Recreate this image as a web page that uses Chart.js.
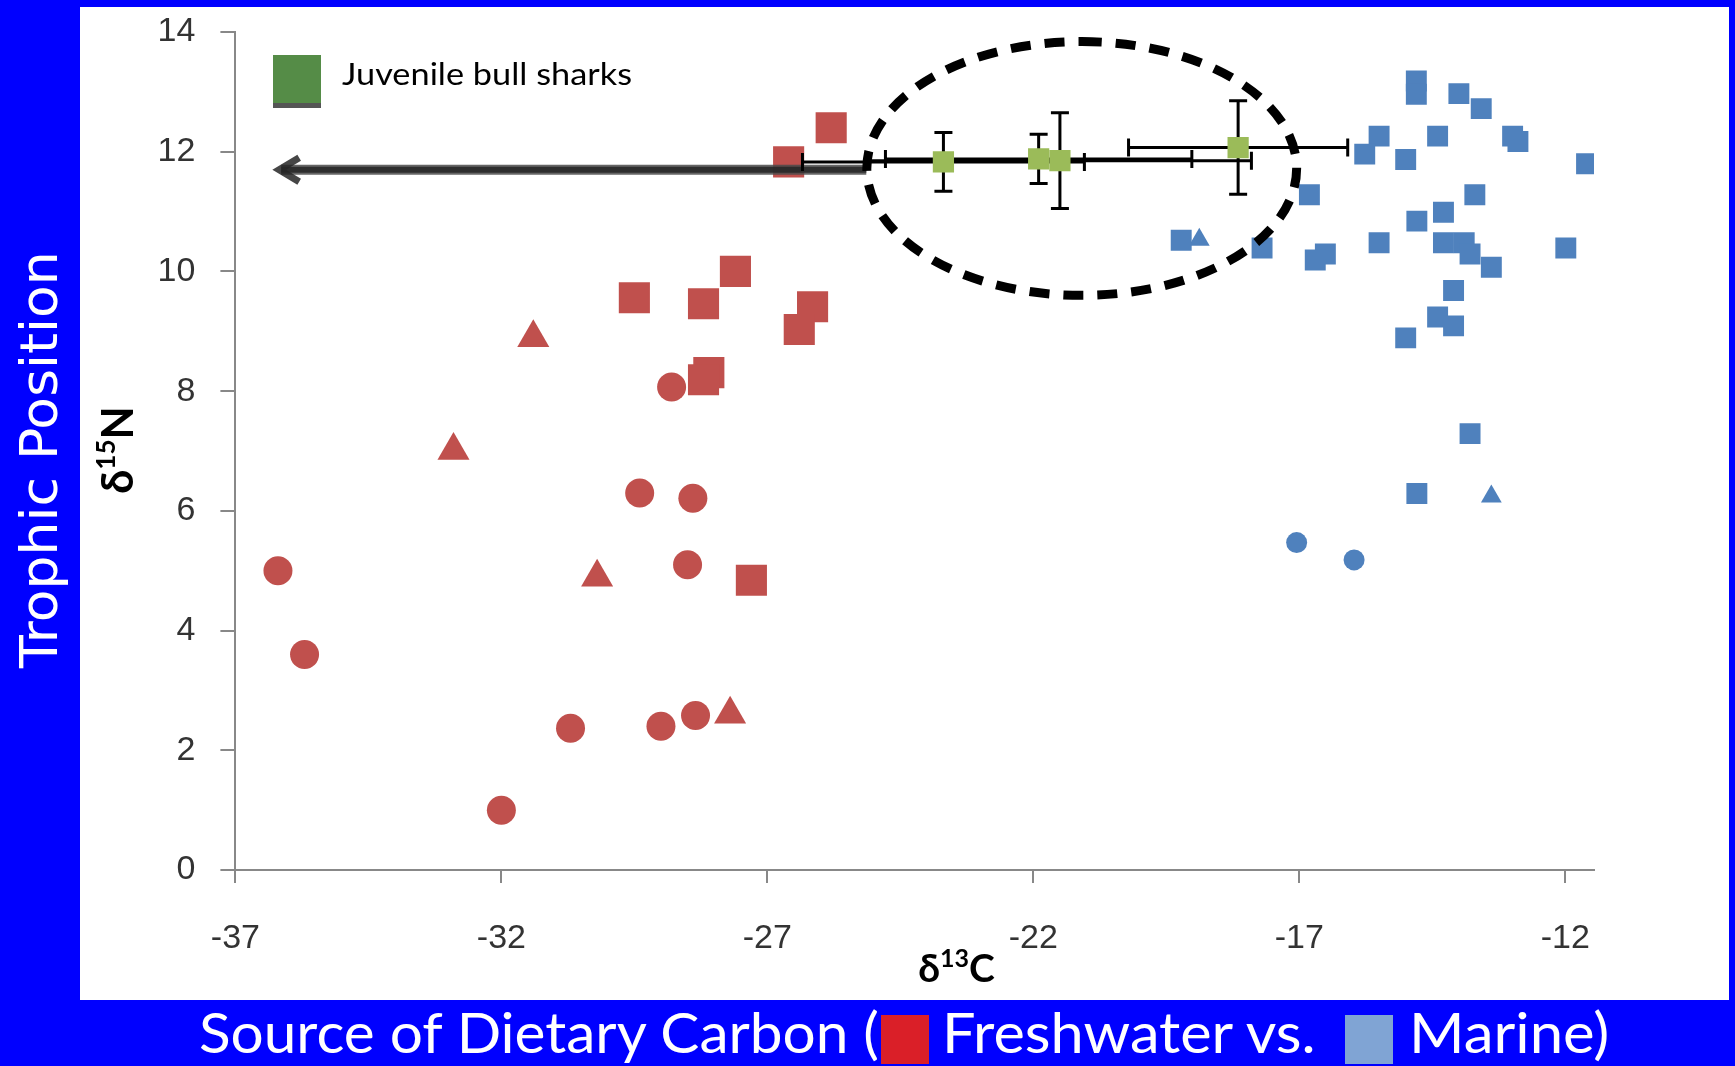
<!DOCTYPE html>
<html>
<head>
<meta charset="utf-8">
<script src="https://cdn.jsdelivr.net/npm/chart.js@4/dist/chart.umd.min.js"></script>
<style>
  html, body { margin: 0; padding: 0; }
  body { width: 1735px; height: 1066px; background: #0000ff; position: relative; overflow: hidden; }
  #plot { position: absolute; left: 80px; top: 7px; width: 1649px; height: 993px; background: #fff; }
  #c { position: absolute; left: 0; top: 0; }
  .t { position: absolute; white-space: nowrap; line-height: 1; left: 0; top: 0; }
  .cap { font-family: Lato, "Open Sans", sans-serif; font-size: 56px; color: #fff; }
  #legText { font-family: Lato, "Open Sans", sans-serif; font-size: 31px; color: #000; }
  #yHead { font-family: "DejaVu Sans", sans-serif; font-size: 52px; color: #fff; }
  #legBox { position: absolute; left: 273px; top: 55px; width: 48px; height: 48px; background: #558c47; border-bottom: 5px solid #555; }
  .sw { position: absolute; top: 1015px; height: 49px; }
  #swRed { left: 881px; width: 48px; background: #da1f28; }
  #swBlue { left: 1345px; width: 48px; background: #80a4d4; }
</style>
</head>
<body>
<div id="plot"><canvas id="c" width="1649" height="993"></canvas></div>
<div id="legBox"></div>
<span class="t" id="legText">Juvenile bull sharks</span>
<span class="t" id="yHead">Trophic Position</span>
<span class="t cap" id="cap1">Source of Dietary Carbon (</span>
<div class="sw" id="swRed"></div>
<span class="t cap" id="cap2">Freshwater vs.</span>
<div class="sw" id="swBlue"></div>
<span class="t cap" id="cap3">Marine)</span>

<script>
// values (d13C on x, d15N on y)
const xAxisTicks = [-37, -32, -27, -22, -17, -12];
const yAxisTicks = [0, 2, 4, 6, 8, 10, 12, 14];

// freshwater prey (red)
const freshCircleX = [-36.2, -35.7, -32.0, -30.7, -29.4, -28.8, -28.4, -28.5, -29.0, -28.35];
const freshCircleY = [5.0, 3.6, 1.0, 2.37, 6.3, 8.07, 6.21, 5.1, 2.4, 2.58];
const freshTriX = [-31.4, -32.9, -30.2, -27.7];
const freshTriY = [8.89, 7.01, 4.89, 2.6];
const freshSqX = [-25.8, -26.6, -29.5, -28.2, -27.6, -26.15, -26.4, -28.1, -28.2, -27.3];
const freshSqY = [12.4, 11.83, 9.56, 9.46, 10.0, 9.41, 9.03, 8.31, 8.19, 4.84];

// marine prey (blue)
const marineSqX = [-14.8, -14.8, -14.0, -13.58, -15.5, -15.77, -14.4, -15.0, -12.99, -12.89, -11.6,
  -16.81, -13.7, -14.29, -14.79, -19.22, -17.7, -16.51, -16.7, -15.5, -14.29, -13.9, -13.79,
  -13.39, -11.99, -14.1, -14.4, -14.1, -15.0, -13.79, -14.79];
const marineSqY = [13.18, 12.96, 12.97, 12.72, 12.26, 11.96, 12.26, 11.87, 12.26, 12.17, 11.8,
  11.28, 11.28, 10.99, 10.84, 10.52, 10.39, 10.29, 10.19, 10.48, 10.48, 10.48, 10.29,
  10.07, 10.39, 9.68, 9.24, 9.09, 8.89, 7.29, 6.29];
const marineTriX = [-18.88, -13.39];
const marineTriY = [10.53, 6.24];
const marineCircleX = [-17.05, -15.97];
const marineCircleY = [5.47, 5.18];

// juvenile bull sharks, mean +/- error
const sharkX = [-23.69, -21.9, -21.5, -18.15];
const sharkY = [11.83, 11.88, 11.85, 12.07];
const sharkXErr = [2.65, 2.88, 3.6, 2.06];
const sharkYErr = [0.49, 0.41, 0.8, 0.78];

// annotations (data units)
const ringCentre = [-21.09, 11.72];
const ringRadius = [4.04, 2.12];
const arrowStart = [-25.14, 11.70];
const arrowEnd = [-36.29, 11.70];

function pts(xs, ys) {
  return xs.map((x, i) => ({ x: x, y: ys[i] }));
}

const RED = '#c0504d';
const BLUE = '#4f81bd';
const GREEN = '#9bbb59';

function set(label, xs, ys, style, r, color) {
  return {
    label: label,
    data: pts(xs, ys),
    pointStyle: style,
    pointRadius: r,
    pointHoverRadius: r,
    pointBackgroundColor: color,
    pointBorderWidth: 0,
    pointHoverBorderWidth: 0
  };
}

function richText(ctx, parts, cx, cy, rot) {
  // parts drawn along a baseline, centred on (cx, cy)
  let w = 0;
  parts.forEach(p => { ctx.font = p.f; p.w = ctx.measureText(p.t).width; w += p.w; });
  ctx.save();
  ctx.translate(cx, cy);
  ctx.rotate(rot);
  ctx.fillStyle = '#000';
  ctx.textBaseline = 'alphabetic';
  let x = -w / 2;
  parts.forEach(p => { ctx.font = p.f; ctx.fillText(p.t, x, p.dy); x += p.w; });
  ctx.restore();
}

const overlay = {
  id: 'overlay',
  beforeDatasetDraw(chart, args) {
    if (args.index !== 0) return;
    const ctx = chart.ctx, xs = chart.scales.x, ys = chart.scales.y;
    ctx.save();

    // arrow
    const ax0 = xs.getPixelForValue(arrowStart[0]);
    const ax1 = xs.getPixelForValue(arrowEnd[0]);
    const ay = ys.getPixelForValue(arrowStart[1]);
    ctx.globalAlpha = 0.85;
    ctx.strokeStyle = '#4a4a4a';
    ctx.lineWidth = 10;
    ctx.beginPath(); ctx.moveTo(ax0, ay); ctx.lineTo(ax1 + 8, ay); ctx.stroke();
    ctx.strokeStyle = '#262626';
    ctx.lineWidth = 6;
    ctx.beginPath(); ctx.moveTo(ax0, ay); ctx.lineTo(ax1 + 8, ay); ctx.stroke();
    ctx.lineWidth = 7;
    ctx.lineJoin = 'miter';
    ctx.beginPath();
    ctx.moveTo(ax1 + 26, ay - 12); ctx.lineTo(ax1 + 6, ay); ctx.lineTo(ax1 + 26, ay + 12);
    ctx.stroke();
    ctx.globalAlpha = 1;

    // dashed ring
    const cx = xs.getPixelForValue(ringCentre[0]);
    const cy = ys.getPixelForValue(ringCentre[1]);
    const rx = xs.getPixelForValue(ringCentre[0] + ringRadius[0]) - cx;
    const ry = cy - ys.getPixelForValue(ringCentre[1] + ringRadius[1]);
    ctx.strokeStyle = '#000';
    ctx.lineWidth = 9;
    ctx.setLineDash([20, 14]);
    ctx.beginPath();
    ctx.ellipse(cx, cy, rx, ry, 0, -Math.PI / 2, Math.PI * 1.5);
    ctx.stroke();
    ctx.setLineDash([]);

    // error bars
    ctx.lineWidth = 3;
    sharkX.forEach((v, i) => {
      const px = xs.getPixelForValue(v), py = ys.getPixelForValue(sharkY[i]);
      const l = xs.getPixelForValue(v - sharkXErr[i]), r = xs.getPixelForValue(v + sharkXErr[i]);
      const t = ys.getPixelForValue(sharkY[i] + sharkYErr[i]), b = ys.getPixelForValue(sharkY[i] - sharkYErr[i]);
      ctx.beginPath();
      ctx.moveTo(l, py); ctx.lineTo(r, py);
      ctx.moveTo(l, py - 9); ctx.lineTo(l, py + 9);
      ctx.moveTo(r, py - 9); ctx.lineTo(r, py + 9);
      ctx.moveTo(px, t); ctx.lineTo(px, b);
      ctx.moveTo(px - 9, t); ctx.lineTo(px + 9, t);
      ctx.moveTo(px - 9, b); ctx.lineTo(px + 9, b);
      ctx.stroke();
    });
    ctx.restore();
  },
  afterDraw(chart) {
    const ctx = chart.ctx;
    richText(ctx, [
      { t: 'δ', f: 'bold 39px Lato', dy: 0 },
      { t: '13', f: 'bold 25px Lato', dy: -15 },
      { t: 'C', f: 'bold 39px Lato', dy: 0 }
    ], 876.5, 975, 0);
    richText(ctx, [
      { t: 'δ', f: 'bold 43px Lato', dy: 0 },
      { t: '15', f: 'bold 26px Lato', dy: -18 },
      { t: 'N', f: 'bold 43px Lato', dy: 0 }
    ], 53, 443, -Math.PI / 2);
  }
};

Chart.defaults.font.family = '"Liberation Sans", Arial, sans-serif';

function noPad(s) {
  s.paddingTop = 0; s.paddingBottom = 0; s.paddingLeft = 0; s.paddingRight = 0;
}

function makeChart() {
  new Chart(document.getElementById('c'), {
    type: 'scatter',
    data: {
      datasets: [
        set('Juvenile bull sharks', sharkX, sharkY, 'rect', 15, GREEN),
        set('Freshwater squares', freshSqX, freshSqY, 'rect', 22, RED),
        set('Freshwater circles', freshCircleX, freshCircleY, 'circle', 14.5, RED),
        set('Freshwater triangles', freshTriX, freshTriY, 'triangle', 18.5, RED),
        set('Marine squares', marineSqX, marineSqY, 'rect', 14.8, BLUE),
        set('Marine circles', marineCircleX, marineCircleY, 'circle', 10.5, BLUE),
        set('Marine triangles', marineTriX, marineTriY, 'triangle', 12, BLUE)
      ]
    },
    options: {
      responsive: false,
      animation: false,
      events: [],
      layout: { padding: { left: 0, top: 25, right: 135, bottom: 0 } },
      plugins: { legend: { display: false }, tooltip: { enabled: false } },
      scales: {
        x: {
          type: 'linear',
          min: -37,
          max: -11.46,
          afterFit: s => { s.height = 130; noPad(s); },
          afterBuildTicks: s => { s.ticks = xAxisTicks.map(v => ({ value: v })); },
          ticks: { autoSkip: false, maxRotation: 0, padding: 35, color: '#333', font: { size: 34 } },
          grid: { drawOnChartArea: false, color: '#888', lineWidth: 2, tickLength: 13 },
          border: { color: '#888', width: 2 }
        },
        y: {
          type: 'linear',
          min: 0,
          max: 14,
          afterFit: s => { s.width = 155.4; noPad(s); },
          afterBuildTicks: s => { s.ticks = yAxisTicks.map(v => ({ value: v })); },
          ticks: { padding: 25, color: '#333', font: { size: 34 } },
          grid: { drawOnChartArea: false, color: '#888', lineWidth: 2, tickLength: 15 },
          border: { color: '#888', width: 2 }
        }
      }
    },
    plugins: [overlay]
  });
}

function place(id, x, base, w, rot) {
  const el = document.getElementById(id);
  const probe = document.createElement('span');
  probe.style.cssText = 'display:inline-block;width:0;height:0;vertical-align:baseline';
  el.appendChild(probe);
  const b = probe.offsetTop;
  const k = w / el.getBoundingClientRect().width;
  el.style.left = x + 'px';
  el.style.top = (base - b) + 'px';
  el.style.transformOrigin = '0 ' + b + 'px';
  el.style.transform = (rot ? 'rotate(' + rot + 'deg) ' : '') + 'scaleX(' + k + ')';
}

document.fonts.ready.then(() => {
  place('legText', 341.6, 85, 290, 0);
  place('yHead', 56.7, 668.3, 416.7, -90);
  place('cap1', 199, 1053, 680, 0);
  place('cap2', 942, 1053, 373.6, 0);
  place('cap3', 1408.7, 1053, 200.3, 0);
  makeChart();
});
</script>
</body>
</html>
